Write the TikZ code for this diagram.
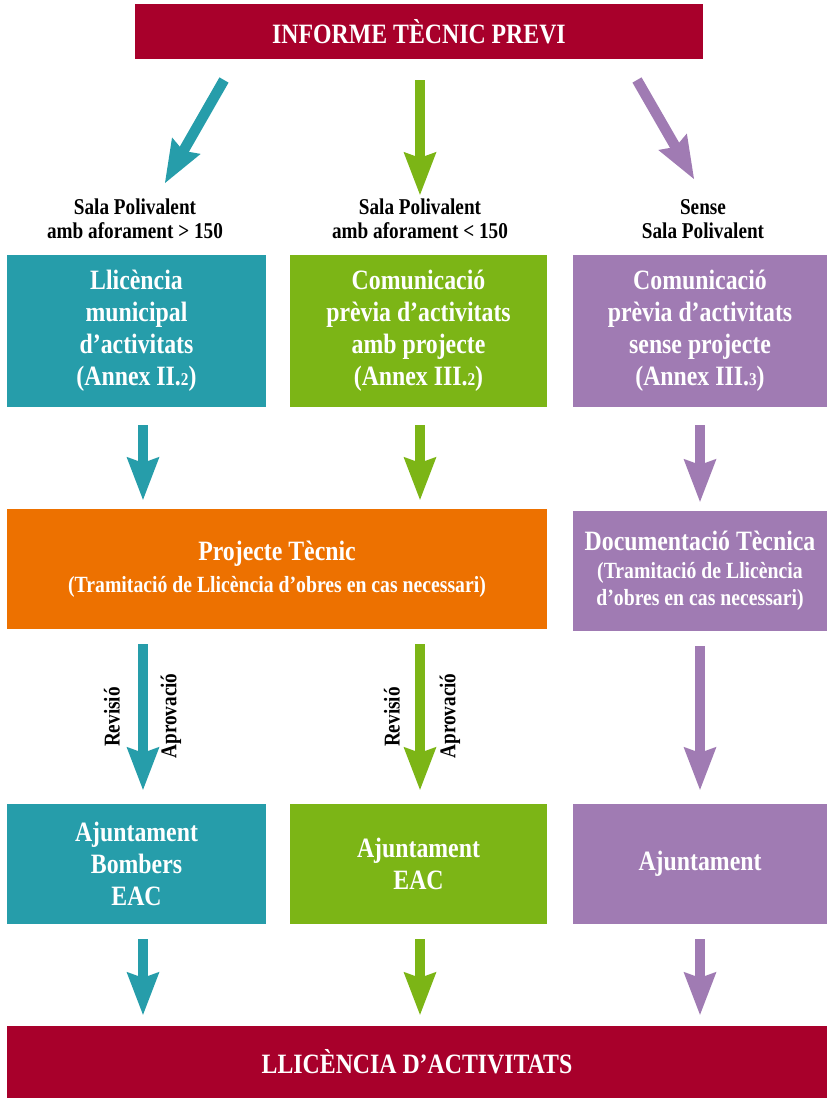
\documentclass[tikz,border=0pt]{standalone}
\usepackage{fontspec}
\setmainfont{Liberation Serif}[FakeStretch=0.85]
\usepackage{xcolor}
\usetikzlibrary{arrows.meta,positioning,calc}
\definecolor{granat}{RGB}{168,0,43}
\definecolor{blauv}{RGB}{38,157,170}
\definecolor{verd}{RGB}{124,181,22}
\definecolor{lila}{RGB}{160,123,179}
\definecolor{taronja}{RGB}{237,113,0}
\newcommand{\petit}[1]{{\fontsize{18}{18}\selectfont #1}}
\newcommand{\sub}[1]{{\fontsize{23.2}{27}\selectfont #1}}

\begin{document}
\begin{tikzpicture}
		[x=1pt,y=-1pt,
		caixa/.style={fill=#1,text=white,align=center,inner sep=0pt,
			font=\fontsize{28}{32}\selectfont\bfseries},
		etiqueta/.style={text=black,align=center,inner sep=0pt,
			font=\fontsize{22.6}{24}\selectfont\bfseries},
		]
		\tikzset{fletxa/.style={draw=#1,line width=10.5pt,
				-{Stealth[length=43pt,width=33pt,inset=6pt,line width=0pt]}}}
		\useasboundingbox (0,0) rectangle (827,1098);
		
		\node[caixa=granat,minimum width=568pt,minimum height=55pt] (informe) at (419,31.5) {INFORME TÈCNIC PREVI};
		
		\node[etiqueta] (sala1) at (135,219) {Sala Polivalent\\amb aforament > 150};
		\node[etiqueta] (sala2) at (420,219) {Sala Polivalent\\amb aforament < 150};
		\node[etiqueta] (sala3) at (703,219) {Sense\\Sala Polivalent};
		
		\node[caixa=blauv,minimum width=259pt,minimum height=152pt] (llic) at (136.5,331) {Llicència\\municipal\\d’activitats\\(Annex II.\petit{2})};
		\node[caixa=verd,minimum width=257pt,minimum height=152pt] (cpa) at (418.5,331) {Comunicació\\prèvia d’activitats\\amb projecte\\(Annex III.\petit{2})};
		\node[caixa=lila,minimum width=254pt,minimum height=152pt] (cps) at (700,331) {Comunicació\\prèvia d’activitats\\sense projecte\\(Annex III.\petit{3})};
		
		\node[caixa=taronja,minimum width=540pt,minimum height=120pt] (projecte) at (277,569) {Projecte Tècnic\\\sub{(Tramitació de Llicència d’obres en cas necessari)}};
		\node[caixa=lila,minimum width=254pt,minimum height=120pt] (doctec) at (700,571) {Documentació Tècnica\\[-4pt]\sub{(Tramitació de Llicència}\\[-5pt]\sub{d’obres en cas necessari)}};
		
		\node[caixa=blauv,minimum width=259pt,minimum height=120pt] (aj1) at (136.5,864) {Ajuntament\\Bombers\\EAC};
		\node[caixa=verd,minimum width=257pt,minimum height=120pt] (aj2) at (418.5,864) {Ajuntament\\EAC};
		\node[caixa=lila,minimum width=254pt,minimum height=120pt] (aj3) at (700,864) {Ajuntament};
		
		\node[caixa=granat,minimum width=820pt,minimum height=72pt] (llicencia) at (417,1062) {LLICÈNCIA D’ACTIVITATS};
		
		\coordinate (c1) at (143,0);
		\coordinate (c2) at (420,0);
		\coordinate (c3) at (700,0);
		\coordinate (s1) at (224,80);
		\coordinate (e1) at (165,183);
		\coordinate (s3) at (637,80);
		\coordinate (e3) at (694,179);
		
		\draw[fletxa=blauv] (s1) -- (e1);
		\draw[fletxa=verd,shorten <=21pt,shorten >=4pt] (informe.south -| c2) -- (sala2.north -| c2);
		\draw[fletxa=lila] (s3) -- (e3);
		
		\draw[fletxa=blauv,shorten <=18pt,shorten >=9pt] (llic.south -| c1) -- (projecte.north -| c1);
		\draw[fletxa=verd,shorten <=18pt,shorten >=9pt] (cpa.south -| c2) -- (projecte.north -| c2);
		\draw[fletxa=lila,shorten <=18pt,shorten >=9pt] (cps.south -| c3) -- (doctec.north -| c3);
		
		\draw[fletxa=blauv,shorten <=15pt,shorten >=14pt] (projecte.south -| c1) -- (aj1.north -| c1);
		\draw[fletxa=verd,shorten <=15pt,shorten >=14pt] (projecte.south -| c2) -- (aj2.north -| c2);
		\draw[fletxa=lila,shorten <=15pt,shorten >=14pt] (doctec.south -| c3) -- (aj3.north -| c3);
		
		\foreach \i/\col in {1/blauv,2/verd,3/lila}
		{
			\draw[fletxa=\col,shorten <=15pt,shorten >=11pt] (aj\i.south -| c\i) -- (llicencia.north -| c\i);
		}
		
		\node[etiqueta,rotate=90] (rev1) at (112,717) {Revisió};
		\node[etiqueta,rotate=90] (apr1) at (171,716) {Aprovació};
		\node[etiqueta,rotate=90] (rev2) at (392,717) {Revisió};
		\node[etiqueta,rotate=90] (apr2) at (450,716) {Aprovació};
		
\end{tikzpicture}
\end{document}
